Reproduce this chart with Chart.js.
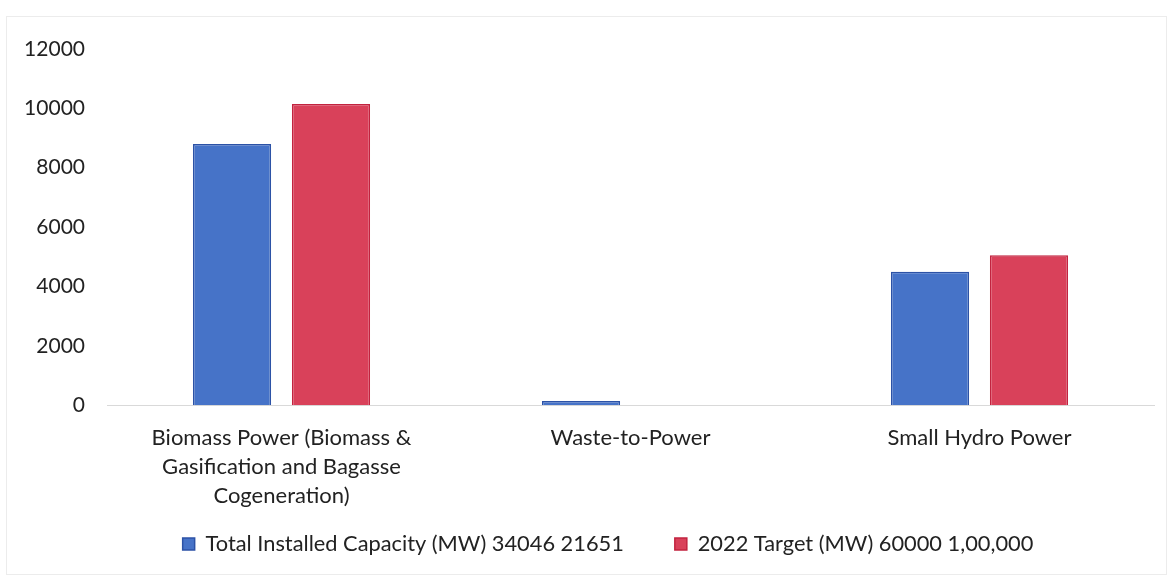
<!DOCTYPE html>
<html>
<head>
<meta charset="utf-8">
<script src="https://cdn.jsdelivr.net/npm/chart.js@4.4.0/dist/chart.umd.min.js"></script>
<style>
  html, body { margin: 0; padding: 0; background: #ffffff; }
  canvas { display: block; }
</style>
</head>
<body>
<canvas id="c" width="1173" height="578"></canvas>
<script>
const categories = [
  ["Biomass Power (Biomass &", "Gasification and Bagasse", "Cogeneration)"],
  "Waste-to-Power",
  "Small Hydro Power"
];
const seriesNames = [
  "Total Installed Capacity (MW) 34046 21651",
  "2022 Target (MW) 60000 1,00,000"
];
const installedValues = [8800, 140, 4500];
const targetValues = [10150, 0, 5050];
const yTickValues = [0, 2000, 4000, 6000, 8000, 10000, 12000];

const frame = {
  id: 'frame',
  beforeDraw(chart) {
    const ctx = chart.ctx;
    ctx.save();
    ctx.fillStyle = '#ffffff';
    ctx.fillRect(0, 0, chart.width, chart.height);
    ctx.strokeStyle = '#ececec';
    ctx.lineWidth = 1;
    ctx.strokeRect(6.5, 16.5, 1160, 558);
    ctx.restore();
  }
};

const layoutTweaks = {
  id: 'layoutTweaks',
  afterLayout(chart) {
    if (chart.legend) {
      chart.legend.left += 26;
      chart.legend.right += 26;
    }
    const x = chart.scales.x;
    if (x) {
      x.bottom = chart.height;
    }
  }
};

new Chart(document.getElementById('c'), {
  type: 'bar',
  data: {
    labels: categories,
    datasets: [
      {
        label: seriesNames[0],
        data: installedValues,
        backgroundColor: '#4673C8',
        borderColor: '#2C52A6',
        borderWidth: 1.5
      },
      {
        label: seriesNames[1],
        data: targetValues,
        backgroundColor: '#D9415A',
        borderColor: '#C2233F',
        borderWidth: 1.5
      }
    ]
  },
  options: {
    responsive: false,
    animation: false,
    devicePixelRatio: 1,
    categoryPercentage: 0.567,
    barPercentage: 0.79,
    layout: { padding: { left: 10, right: 19, top: 49, bottom: 13 } },
    plugins: {
      tooltip: { enabled: false },
      legend: {
        position: 'bottom',
        labels: {
          font: { family: 'Lato', size: 21.8 },
          color: '#222222',
          boxWidth: 12,
          boxHeight: 12,
          padding: 51
        }
      }
    },
    scales: {
      x: {
        grid: { display: false, drawTicks: false },
        border: { display: true, color: '#d9d9d9', width: 1 },
        ticks: {
          font: { family: 'Lato', size: 22, lineHeight: 1.32 },
          color: '#222222',
          padding: 18,
          maxRotation: 0,
          autoSkip: false
        },
        afterFit(scale) { scale.height = 77; }
      },
      y: {
        min: 0,
        max: 12000,
        grid: { display: false, drawTicks: false },
        border: { display: false },
        afterBuildTicks(scale) { scale.ticks = yTickValues.map(v => ({ value: v })); },
        ticks: {
          font: { family: 'Lato', size: 21 },
          color: '#222222',
          padding: 22,
          callback: (v) => String(v)
        },
        afterFit(scale) { scale.width = 97; }
      }
    }
  },
  plugins: [frame, layoutTweaks]
});
</script>
</body>
</html>
